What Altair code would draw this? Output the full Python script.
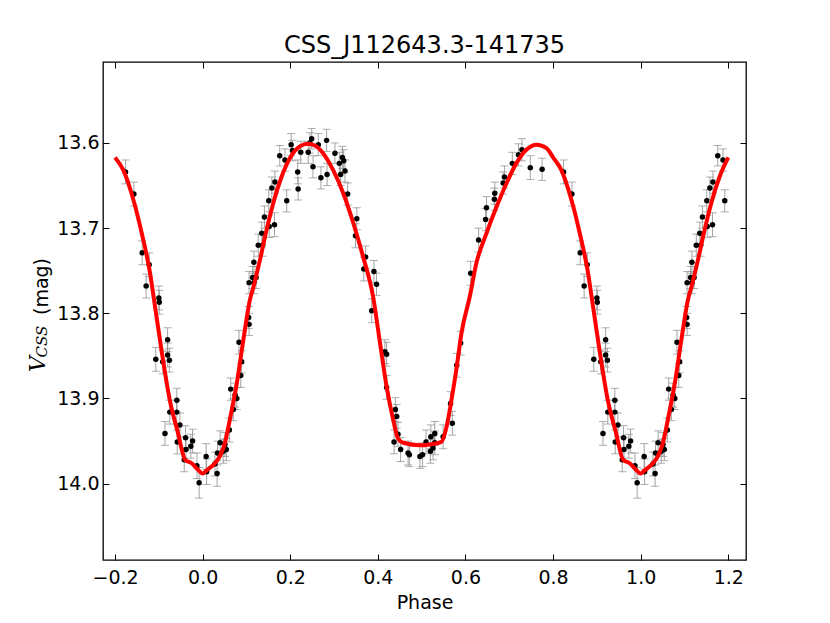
import altair as alt
import pandas as pd

TITLE = "CSS_J112643.3-141735"
X_TICKS = [-0.2, 0.0, 0.2, 0.4, 0.6, 0.8, 1.0, 1.2]
Y_TICKS = [13.6, 13.7, 13.8, 13.9, 14.0]
X_DOMAIN = [-0.2275, 1.2405]
Y_DOMAIN = [13.505, 14.0896]

# observed points over one cycle (phase 0..1)
phase = [0.008, 0.009, 0.028, 0.033, 0.034, 0.040, 0.047, 0.051, 0.054, 0.061,
         0.064, 0.070, 0.074, 0.078, 0.083, 0.087, 0.089, 0.105, 0.106, 0.106,
         0.114, 0.117, 0.117, 0.122, 0.127, 0.135, 0.137, 0.141, 0.151, 0.152,
         0.158, 0.164, 0.165, 0.176, 0.188, 0.192, 0.202, 0.205, 0.217, 0.218,
         0.224, 0.241, 0.245, 0.249, 0.252, 0.264, 0.270, 0.283, 0.284, 0.302,
         0.312, 0.315, 0.319, 0.322, 0.325, 0.331, 0.349, 0.352, 0.368, 0.372,
         0.386, 0.391, 0.397, 0.416, 0.420, 0.420, 0.437, 0.440, 0.443, 0.446,
         0.452, 0.469, 0.472, 0.496, 0.502, 0.510, 0.520, 0.521, 0.526, 0.530,
         0.530, 0.549, 0.566, 0.570, 0.580, 0.589, 0.612, 0.630, 0.646, 0.648,
         0.666, 0.667, 0.686, 0.689, 0.707, 0.721, 0.729, 0.748, 0.775, 0.824,
         0.843, 0.862, 0.871, 0.878, 0.893, 0.900, 0.901, 0.909, 0.914, 0.920,
         0.920, 0.924, 0.925, 0.941, 0.941, 0.942, 0.948, 0.958, 0.961, 0.962,
         0.973, 0.977, 0.987, 0.992]
mag = [13.968, 13.986, 13.977, 13.988, 13.964, 13.952, 13.962, 13.954, 13.960, 13.937,
       13.889, 13.913, 13.896, 13.900, 13.834, 13.873, 13.857, 13.805, 13.813, 13.764,
       13.758, 13.764, 13.740, 13.758, 13.720, 13.706, 13.720, 13.687, 13.668, 13.698,
       13.653, 13.696, 13.646, 13.615, 13.620, 13.668, 13.602, 13.609, 13.634, 13.654,
       13.611, 13.611, 13.600, 13.595, 13.628, 13.602, 13.641, 13.597, 13.637, 13.612,
       13.624, 13.637, 13.617, 13.621, 13.633, 13.660, 13.709, 13.689, 13.748, 13.734,
       13.797, 13.751, 13.766, 13.845, 13.848, 13.887, 13.951, 13.913, 13.921, 13.942,
       13.960, 13.964, 13.966, 13.968, 13.966, 13.951, 13.962, 13.945, 13.958, 13.941,
       13.952, 13.945, 13.906, 13.929, 13.861, 13.835, 13.753, 13.714, 13.690, 13.676,
       13.666, 13.659, 13.647, 13.640, 13.624, 13.614, 13.608, 13.629, 13.631, 13.634,
       13.660, 13.729, 13.768, 13.743, 13.854, 13.782, 13.787, 13.857, 13.941, 13.831,
       13.849, 13.855, 13.916, 13.902, 13.916, 13.951, 13.931, 13.972, 13.946, 13.960,
       13.956, 13.950, 13.979, 13.999]
err = [0.015, 0.015, 0.014, 0.015, 0.014, 0.014, 0.014, 0.014, 0.013, 0.014,
       0.013, 0.013, 0.014, 0.013, 0.014, 0.014, 0.013, 0.013, 0.013, 0.013,
       0.013, 0.013, 0.013, 0.013, 0.013, 0.013, 0.013, 0.013, 0.013, 0.013,
       0.013, 0.014, 0.013, 0.012, 0.013, 0.013, 0.013, 0.012, 0.014, 0.013,
       0.013, 0.013, 0.012, 0.012, 0.013, 0.013, 0.013, 0.013, 0.013, 0.012,
       0.013, 0.013, 0.013, 0.013, 0.013, 0.013, 0.014, 0.013, 0.014, 0.013,
       0.014, 0.013, 0.013, 0.014, 0.014, 0.014, 0.014, 0.014, 0.014, 0.014,
       0.014, 0.014, 0.014, 0.014, 0.014, 0.014, 0.014, 0.014, 0.014, 0.014,
       0.014, 0.014, 0.014, 0.014, 0.014, 0.014, 0.014, 0.014, 0.013, 0.013,
       0.013, 0.013, 0.013, 0.013, 0.013, 0.013, 0.013, 0.014, 0.013, 0.014,
       0.014, 0.014, 0.014, 0.014, 0.014, 0.014, 0.014, 0.014, 0.014, 0.014,
       0.014, 0.014, 0.014, 0.014, 0.014, 0.014, 0.014, 0.014, 0.014, 0.014,
       0.014, 0.014, 0.015, 0.018]

# model light curve over one cycle
curve_phase = [0.000, 0.010, 0.028, 0.040, 0.051, 0.062, 0.078, 0.093, 0.108, 0.116,
               0.131, 0.146, 0.161, 0.180, 0.200, 0.222, 0.240, 0.256, 0.275, 0.298,
               0.321, 0.344, 0.366, 0.389, 0.405, 0.420, 0.435, 0.446, 0.458, 0.496,
               0.519, 0.545, 0.557, 0.568, 0.580, 0.591, 0.610, 0.625, 0.648, 0.671,
               0.694, 0.716, 0.739, 0.762, 0.785, 0.800, 0.819, 0.842, 0.861, 0.880,
               0.889, 0.906, 0.925, 0.944, 0.960, 0.975, 0.990]
curve_mag = [13.988, 13.984, 13.976, 13.967, 13.952, 13.925, 13.882, 13.831, 13.784, 13.769,
             13.737, 13.702, 13.671, 13.640, 13.617, 13.604, 13.601, 13.603, 13.612, 13.632,
             13.659, 13.694, 13.733, 13.780, 13.835, 13.886, 13.925, 13.947, 13.952, 13.955,
             13.954, 13.951, 13.933, 13.902, 13.863, 13.823, 13.780, 13.741, 13.706, 13.675,
             13.647, 13.624, 13.608, 13.602, 13.606, 13.617, 13.632, 13.667, 13.706, 13.753,
             13.784, 13.843, 13.902, 13.941, 13.972, 13.976, 13.984]


def fold(ph, cols):
    """Repeat the cycle: phases >= 0.8 also shown at phase-1, phases <= 0.2 at phase+1."""
    rows = []
    for i, p in enumerate(ph):
        vals = {k: v[i] for k, v in cols.items()}
        rows.append({"phase": p, **vals})
        if p >= 0.8:
            rows.append({"phase": p - 1.0, **vals})
        if p <= 0.2:
            rows.append({"phase": p + 1.0, **vals})
    return pd.DataFrame(rows)


pts = fold(phase, {"mag": mag, "err": err})
pts["lo"] = pts["mag"] - pts["err"]
pts["hi"] = pts["mag"] + pts["err"]
crv = fold(curve_phase, {"mag": curve_mag}).sort_values("phase")

FONT = "DejaVu Sans"
xs = alt.Scale(domain=X_DOMAIN, nice=False, zero=False)
ys = alt.Scale(domain=Y_DOMAIN, nice=False, zero=False, reverse=True)

common_axis = dict(domain=False, grid=False, ticks=True, tickSize=6, tickColor="black",
                   tickWidth=1, offset=-6, labelFont=FONT, labelFontSize=19,
                   labelColor="black", labelFlush=False, labelOverlap=False)

x_bottom = alt.Axis(values=X_TICKS, format=".1f", orient="bottom", labelPadding=8,
                    title="Phase", titleFont=FONT, titleFontSize=19, titleFontWeight="normal",
                    titleColor="black", titlePadding=6, **common_axis)
y_left = alt.Axis(values=Y_TICKS, format=".1f", orient="left", labelPadding=4,
                  title=None, **common_axis)
x_top = alt.Axis(values=X_TICKS, orient="top", labels=False, title=None, **common_axis)
y_right = alt.Axis(values=Y_TICKS, orient="right", labels=False, title=None, **common_axis)

GRAY = "#8c8c8c"
bars = alt.Chart(pts).mark_rule(color=GRAY, strokeWidth=1, opacity=0.8).encode(
    x=alt.X("phase:Q", scale=xs, axis=x_bottom),
    y=alt.Y("lo:Q", scale=ys, axis=y_left),
    y2="hi:Q",
)
caps_lo = alt.Chart(pts).mark_tick(color=GRAY, orient="horizontal", size=8, thickness=1).encode(
    x=alt.X("phase:Q", scale=xs, axis=x_top),
    y=alt.Y("lo:Q", scale=ys, axis=y_right),
)
caps_hi = alt.Chart(pts).mark_tick(color=GRAY, orient="horizontal", size=8, thickness=1).encode(
    x=alt.X("phase:Q", scale=xs, axis=None),
    y=alt.Y("hi:Q", scale=ys, axis=None),
)
dots = alt.Chart(pts).mark_circle(color="black", size=30, opacity=1).encode(
    x=alt.X("phase:Q", scale=xs, axis=None),
    y=alt.Y("mag:Q", scale=ys, axis=None),
)
line = alt.Chart(crv).mark_line(color="#ff0000", strokeWidth=4, interpolate="monotone").encode(
    x=alt.X("phase:Q", scale=xs, axis=None),
    y=alt.Y("mag:Q", scale=ys, axis=None),
    order="phase:Q",
)

lab = pd.DataFrame({"t": ["V", "CSS", "(mag)", TITLE]})
lab_v = alt.Chart(lab).transform_filter(alt.datum.t == "V").mark_text(
    font="DejaVu Serif", fontStyle="italic", fontSize=22, angle=270, align="center",
    baseline="alphabetic", color="black").encode(
    x=alt.value(-58), y=alt.value(302), text="t:N")
lab_css = alt.Chart(lab).transform_filter(alt.datum.t == "CSS").mark_text(
    font="DejaVu Serif", fontStyle="italic", fontSize=15, angle=270, align="center",
    baseline="alphabetic", color="black").encode(
    x=alt.value(-56), y=alt.value(279.5), text="t:N")
lab_mag = alt.Chart(lab).transform_filter(alt.datum.t == "(mag)").mark_text(
    font=FONT, fontSize=19, angle=270, align="center", baseline="alphabetic",
    color="black").encode(
    x=alt.value(-55), y=alt.value(224.5), text="t:N")
lab_title = alt.Chart(lab).transform_filter(alt.datum.t == TITLE).mark_text(
    font=FONT, fontSize=24, align="center", baseline="alphabetic",
    color="black").encode(
    x=alt.value(321.5), y=alt.value(-9), text="t:N")

chart = alt.layer(bars, caps_lo, caps_hi, dots, line, lab_v, lab_css, lab_mag, lab_title).resolve_axis(
    x="independent", y="independent"
).properties(
    width=643, height=498,
    autosize=alt.AutoSizeParams(type="none"),
    padding={"left": 95, "top": 54, "right": 70, "bottom": 54},
).configure(background="white").configure_view(stroke="black", strokeWidth=1.3)

chart.save("out.html", embed_options={"renderer": "svg", "actions": False})
